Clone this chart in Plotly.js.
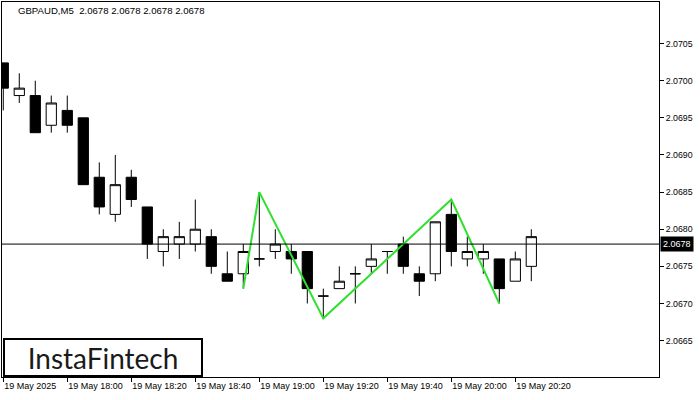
<!DOCTYPE html>
<html>
<head>
<meta charset="utf-8">
<script src="https://cdn.plot.ly/plotly-3.0.1.min.js"></script>
<style>
  html, body { margin: 0; padding: 0; background: #ffffff; }
  #chart { width: 700px; height: 400px; }
</style>
</head>
<body>
<div id="chart"></div>
<script>
// ---- data ----
const symbolTitle = 'GBPAUD,M5&nbsp;&nbsp;2.0678 2.0678 2.0678 2.0678';
const day = '2025-05-19';
const times = ['17:40','17:45','17:50','17:55','18:00','18:05','18:10','18:15','18:20','18:25','18:30','18:35',
               '18:40','18:45','18:50','18:55','19:00','19:05','19:10','19:15','19:20','19:25','19:30','19:35',
               '19:40','19:45','19:50','19:55','20:00','20:05','20:10','20:15','20:20','20:25'];
const open  = [2.07024,2.0698,2.0698,2.0694,2.0696,2.0695,2.0687,2.0682,2.0687,2.0683,2.0677,2.0678,
               2.0678,2.0679,2.0674,2.0674,2.0676,2.0677,2.0677,2.0677,2.0671,2.0672,2.0674,2.0675,
               2.0677,2.0678,2.0674,2.0674,2.0682,2.0676,2.0676,2.0676,2.0673,2.0675];
const high  = [2.07024,2.0701,2.0700,2.0698,2.0698,2.0695,2.0689,2.0690,2.0688,2.0683,2.0680,2.0681,
               2.0684,2.0680,2.0677,2.0678,2.0685,2.0680,2.0678,2.0677,2.0672,2.0675,2.0675,2.0678,
               2.0677,2.0679,2.0675,2.0681,2.0684,2.0679,2.0678,2.0676,2.0677,2.0680];
const low   = [2.0696,2.0697,2.0693,2.0693,2.0693,2.0686,2.0682,2.0681,2.0683,2.0676,2.0675,2.0676,
               2.0677,2.0674,2.0673,2.0672,2.0675,2.0676,2.0674,2.0670,2.0668,2.0672,2.0670,2.0674,
               2.0674,2.0674,2.0671,2.0673,2.0675,2.0675,2.0674,2.0670,2.0673,2.0673];
const close = [2.0699,2.0699,2.0693,2.0697,2.0694,2.0686,2.0683,2.0686,2.0684,2.0678,2.0679,2.0679,
               2.0680,2.0675,2.0673,2.0677,2.0676,2.0678,2.0676,2.0672,2.0671,2.0673,2.0674,2.0676,
               2.0677,2.0675,2.0673,2.0681,2.0677,2.0677,2.0677,2.0672,2.0676,2.0679];
const patternTimes  = ['18:55','19:00','19:20','20:00','20:15'];
const patternPrices = [2.0672,2.0685,2.0668,2.0684,2.0670];
const lastPrice = 2.0678;
const tickTimes = ['17:40','18:00','18:20','18:40','19:00','19:20','19:40','20:00','20:20'];
const tickText  = ['19 May 2025','19 May 18:00','19 May 18:20','19 May 18:40','19 May 19:00',
                   '19 May 19:20','19 May 19:40','19 May 20:00','19 May 20:20'];
const priceTicks = [2.0665,2.0670,2.0675,2.0680,2.0685,2.0690,2.0695,2.0700,2.0705];
const xRange = ['2025-05-19 17:39:36','2025-05-19 21:04:54'];
const yRange = [2.06601, 2.07106];
const logoText = 'InstaFintech';

// ---- build ----
const ts = t => day + ' ' + t;
const sans = 'Liberation Sans, Arial, sans-serif';

const candles = {
  type: 'candlestick',
  x: times.map(ts), open: open, high: high, low: low, close: close,
  increasing: {line: {color: '#000', width: 1}, fillcolor: '#ffffff'},
  decreasing: {line: {color: '#000', width: 1}, fillcolor: '#000000'},
  whiskerwidth: 0,
  hoverinfo: 'skip',
  showlegend: false
};
const pattern = {
  type: 'scatter', mode: 'lines',
  x: patternTimes.map(ts), y: patternPrices,
  line: {color: '#2fe02f', width: 2},
  hoverinfo: 'skip', showlegend: false
};

const layout = {
  width: 700, height: 400,
  margin: {l: 2, r: 41, t: 2, b: 23},
  paper_bgcolor: '#fff', plot_bgcolor: '#fff',
  showlegend: false, hovermode: false,
  boxgap: 0.36, boxgroupgap: 0,
  title: {text: symbolTitle, xref: 'container', x: 18/700, xanchor: 'left',
          yref: 'container', y: 1 - 11/400, yanchor: 'middle',
          font: {family: sans, size: 9.6, color: '#000'}},
  xaxis: {
    type: 'date', range: xRange, rangeslider: {visible: false},
    showgrid: false, zeroline: false,
    showline: true, mirror: true, linecolor: '#000', linewidth: 1,
    ticks: 'outside', ticklen: 4, tickcolor: '#000', tickwidth: 1,
    tickmode: 'array', tickvals: tickTimes.map(ts), ticktext: tickText,
    ticklabelposition: 'outside right',
    tickfont: {family: sans, size: 9, color: '#000'}, fixedrange: true
  },
  yaxis: {
    range: yRange, side: 'right',
    showgrid: false, zeroline: false,
    showline: true, mirror: true, linecolor: '#000', linewidth: 1,
    ticks: 'outside', ticklen: 4, tickcolor: '#000', tickwidth: 1,
    tickmode: 'array', tickvals: priceTicks, ticktext: priceTicks.map(v => v.toFixed(4)),
    tickfont: {family: sans, size: 8.8, color: '#000'},
    fixedrange: true
  },
  shapes: [{
    type: 'line', xref: 'paper', x0: 0, x1: 1, yref: 'y', y0: lastPrice, y1: lastPrice,
    line: {color: '#000', width: 1}
  }],
  annotations: [
    {xref: 'paper', x: 1, xanchor: 'left', xshift: 1, yref: 'y', y: lastPrice, yanchor: 'middle',
     text: lastPrice.toFixed(4), showarrow: false, bgcolor: '#000', borderpad: 2,
     font: {family: sans, size: 9, color: '#fff'}},
    {xref: 'paper', x: 0, xanchor: 'left', xshift: 1, yref: 'paper', y: 0, yanchor: 'bottom',
     text: logoText, showarrow: false, bgcolor: '#fff', bordercolor: '#000', borderwidth: 2,
     width: 194, height: 33, align: 'center', valign: 'middle',
     font: {family: 'Lato, sans-serif', size: 28, color: '#1a1a1a'}}
  ]
};

Plotly.newPlot('chart', [candles, pattern], layout, {displayModeBar: false, staticPlot: true});
</script>
</body>
</html>
